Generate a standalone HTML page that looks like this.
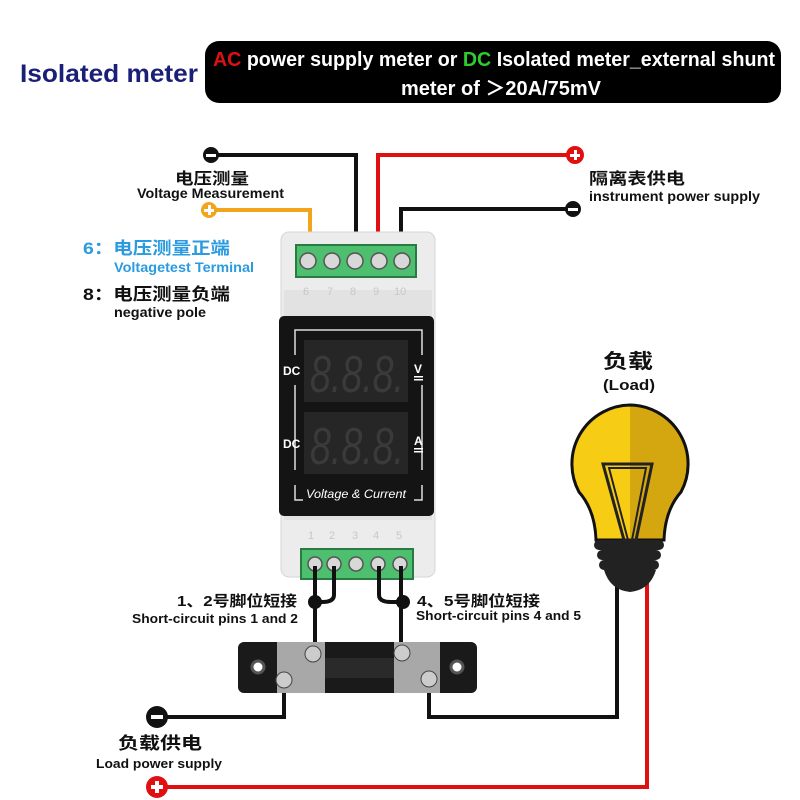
<!DOCTYPE html>
<html><head><meta charset="utf-8"><style>
body{margin:0;background:#fff}
svg{display:block}
text{font-family:"Liberation Sans","Noto Sans CJK SC",sans-serif;font-weight:bold}
</style></head><body>
<svg width="800" height="800" viewBox="0 0 800 800" xmlns="http://www.w3.org/2000/svg">
<rect width="800" height="800" fill="#fff"/>
<text x="20" y="82" font-size="25" fill="#1a1f78" textLength="178" lengthAdjust="spacingAndGlyphs">Isolated meter</text>
<rect x="205" y="41" width="576" height="62" rx="14" fill="#000"/>
<text x="213" y="66" font-size="20" fill="#fff" textLength="562" lengthAdjust="spacingAndGlyphs"><tspan fill="#e01010">AC</tspan> power supply meter or <tspan fill="#2ecc2e">DC</tspan> Isolated meter_external shunt</text>
<text x="401" y="95" font-size="20" fill="#fff" textLength="200" lengthAdjust="spacingAndGlyphs">meter of ＞20A/75mV</text>

<g fill="none" stroke-width="4">
<polyline points="211,155 356,155 356,245" stroke="#111"/>
<polyline points="378,245 378,155 575,155" stroke="#e01010"/>
<polyline points="401,245 401,209 573,209" stroke="#111"/>
<polyline points="209,210 310,210 310,245" stroke="#f2a51c"/>
</g>
<circle cx="211" cy="155" r="8" fill="#111"/><rect x="206" y="154" width="10" height="3" fill="#fff"/>
<circle cx="575" cy="155" r="9" fill="#e01010"/><rect x="570" y="154" width="10" height="3" fill="#fff"/><rect x="574" y="150" width="3" height="10" fill="#fff"/>
<circle cx="573" cy="209" r="8" fill="#111"/><rect x="568" y="208" width="10" height="3" fill="#fff"/>
<circle cx="209" cy="210" r="8" fill="#f2a51c"/><rect x="204" y="209" width="10" height="3" fill="#fff"/><rect x="208" y="205" width="3" height="10" fill="#fff"/>

<text x="175" y="184" font-size="16" fill="#111" textLength="74" lengthAdjust="spacingAndGlyphs">电压测量</text>
<text x="137" y="198" font-size="14" fill="#111" textLength="147" lengthAdjust="spacingAndGlyphs">Voltage Measurement</text>
<text x="589" y="184" font-size="16" fill="#111" textLength="96" lengthAdjust="spacingAndGlyphs">隔离表供电</text>
<text x="589" y="201" font-size="14" fill="#111" textLength="171" lengthAdjust="spacingAndGlyphs">instrument power supply</text>
<text x="83" y="254" font-size="17" fill="#2a9be0" textLength="147" lengthAdjust="spacingAndGlyphs">6：电压测量正端</text>
<text x="114" y="272" font-size="14" fill="#2a9be0" textLength="140" lengthAdjust="spacingAndGlyphs">Voltagetest Terminal</text>
<text x="83" y="300" font-size="17" fill="#111" textLength="147" lengthAdjust="spacingAndGlyphs">8：电压测量负端</text>
<text x="114" y="317" font-size="14" fill="#111" textLength="92" lengthAdjust="spacingAndGlyphs">negative pole</text>

<rect x="281" y="232" width="154" height="345" rx="8" fill="#ececec" stroke="#d6d6d6"/>
<rect x="284" y="290" width="148" height="230" fill="#e2e2e2"/>
<rect x="296" y="245" width="120" height="32" fill="#4dbf6e" stroke="#2a7a44" stroke-width="2"/>
<g fill="#d8d8d8" stroke="#555" stroke-width="1.5">
<circle cx="308" cy="261" r="8"/><circle cx="332" cy="261" r="8"/><circle cx="355" cy="261" r="8"/><circle cx="379" cy="261" r="8"/><circle cx="402" cy="261" r="8"/>
</g>
<g font-size="11" fill="#c8c8c8"><text x="303" y="295" style="font-weight:normal">6</text><text x="327" y="295" style="font-weight:normal">7</text><text x="350" y="295" style="font-weight:normal">8</text><text x="373" y="295" style="font-weight:normal">9</text><text x="394" y="295" style="font-weight:normal">10</text></g>
<rect x="279" y="316" width="155" height="200" rx="5" fill="#141414"/>
<path d="M295 355 V330 H422 V355 M295 385 V470 M422 385 V470 M295 485 V500 H303 M422 485 V500 H414" fill="none" stroke="#ddd" stroke-width="1.5"/>
<rect x="304" y="340" width="104" height="62" fill="#262626"/>
<rect x="304" y="412" width="104" height="62" fill="#262626"/>
<text x="310" y="392" font-size="52" fill="#3a3a3a" font-style="italic" style="font-weight:normal" textLength="94" lengthAdjust="spacingAndGlyphs">8.8.8.</text>
<text x="310" y="464" font-size="52" fill="#3a3a3a" font-style="italic" style="font-weight:normal" textLength="94" lengthAdjust="spacingAndGlyphs">8.8.8.</text>
<text x="283" y="375" font-size="12" fill="#fff">DC</text>
<text x="283" y="448" font-size="12" fill="#fff">DC</text>
<text x="414" y="373" font-size="12" fill="#fff">V</text>
<text x="414" y="445" font-size="12" fill="#fff">A</text>
<rect x="414" y="376" width="9" height="1.5" fill="#fff"/><rect x="414" y="379" width="9" height="1.5" fill="#fff"/>
<rect x="414" y="448" width="9" height="1.5" fill="#fff"/><rect x="414" y="451" width="9" height="1.5" fill="#fff"/>
<text x="306" y="498" font-size="12" fill="#fff" font-style="italic" style="font-weight:normal" textLength="100" lengthAdjust="spacingAndGlyphs">Voltage &amp; Current</text>
<g font-size="11" fill="#c8c8c8"><text x="308" y="539" style="font-weight:normal">1</text><text x="329" y="539" style="font-weight:normal">2</text><text x="352" y="539" style="font-weight:normal">3</text><text x="373" y="539" style="font-weight:normal">4</text><text x="396" y="539" style="font-weight:normal">5</text></g>
<rect x="301" y="549" width="112" height="30" fill="#4dbf6e" stroke="#2a7a44" stroke-width="2"/>
<g fill="#d8d8d8" stroke="#555" stroke-width="1.5">
<circle cx="315" cy="564" r="7"/><circle cx="334" cy="564" r="7"/><circle cx="356" cy="564" r="7"/><circle cx="378" cy="564" r="7"/><circle cx="400" cy="564" r="7"/>
</g>

<g fill="none" stroke="#111" stroke-width="4">
<polyline points="315,566 315,645"/>
<path d="M334 566 V595 Q334 602 322 602 H315"/>
<path d="M379 566 V595 Q379 602 391 602 H403"/>
<polyline points="401,566 401,645"/>
<polyline points="284,690 284,717 160,717"/>
<polyline points="429,690 429,717 617,717 617,580"/>
</g>
<circle cx="315" cy="602" r="7" fill="#111"/><circle cx="403" cy="602" r="7" fill="#111"/>
<polyline points="647,580 647,787 160,787" fill="none" stroke="#e01010" stroke-width="4"/>
<circle cx="157" cy="717" r="11" fill="#111"/><rect x="151" y="715" width="12" height="4" fill="#fff"/>
<circle cx="157" cy="787" r="11" fill="#e01010"/><rect x="151" y="785" width="12" height="4" fill="#fff"/><rect x="155" y="781" width="4" height="12" fill="#fff"/>

<text x="177" y="606" font-size="15" fill="#111" textLength="120" lengthAdjust="spacingAndGlyphs">1、2号脚位短接</text>
<text x="132" y="623" font-size="13" fill="#111" textLength="166" lengthAdjust="spacingAndGlyphs">Short-circuit pins 1 and 2</text>
<text x="417" y="606" font-size="15" fill="#111" textLength="123" lengthAdjust="spacingAndGlyphs">4、5号脚位短接</text>
<text x="416" y="620" font-size="13" fill="#111" textLength="165" lengthAdjust="spacingAndGlyphs">Short-circuit pins 4 and 5</text>
<text x="118" y="749" font-size="17" fill="#111" textLength="84" lengthAdjust="spacingAndGlyphs">负载供电</text>
<text x="96" y="768" font-size="13" fill="#111" textLength="126" lengthAdjust="spacingAndGlyphs">Load power supply</text>

<rect x="238" y="642" width="239" height="51" rx="6" fill="#1a1a1a"/>
<circle cx="258" cy="667" r="6" fill="#fff" stroke="#555" stroke-width="3"/>
<circle cx="457" cy="667" r="6" fill="#fff" stroke="#555" stroke-width="3"/>
<rect x="277" y="642" width="48" height="51" fill="#a8a8a8"/>
<rect x="394" y="642" width="46" height="51" fill="#a8a8a8"/>
<rect x="325" y="658" width="69" height="20" fill="#2a2a2a"/>
<circle cx="313" cy="654" r="8" fill="#ccc" stroke="#444"/>
<circle cx="284" cy="680" r="8" fill="#ccc" stroke="#444"/>
<circle cx="402" cy="653" r="8" fill="#ccc" stroke="#444"/>
<circle cx="429" cy="679" r="8" fill="#ccc" stroke="#444"/>

<text x="603" y="368" font-size="20" fill="#111" textLength="50" lengthAdjust="spacingAndGlyphs">负载</text>
<text x="603" y="390" font-size="15" fill="#111" textLength="52" lengthAdjust="spacingAndGlyphs">(Load)</text>
<path d="M630 405 A59 59 0 0 1 681 492 Q665 510 664 540 H596 Q595 510 579 492 A59 59 0 0 1 630 405 Z" fill="#f7cc15"/>
<path d="M630 405 A59 59 0 0 1 681 492 Q665 510 664 540 H630 Z" fill="#d4a610"/>
<path d="M630 405 A59 59 0 0 1 681 492 Q665 510 664 540 H596 Q595 510 579 492 A59 59 0 0 1 630 405 Z" fill="none" stroke="#111" stroke-width="3"/>
<path d="M603 464 H652 L636 540 H624 Z" fill="none" stroke="#222" stroke-width="3"/>
<path d="M609 468 H646 L632 540 H628 Z" fill="none" stroke="#222" stroke-width="2"/>
<rect x="594" y="540" width="70" height="10" rx="5" fill="#222"/>
<rect x="597" y="550" width="64" height="10" rx="5" fill="#222"/>
<rect x="599" y="560" width="60" height="10" rx="5" fill="#222"/>
<path d="M604 570 H656 Q650 590 630 592 Q610 590 604 570 Z" fill="#222"/>
</svg>
</body></html>
